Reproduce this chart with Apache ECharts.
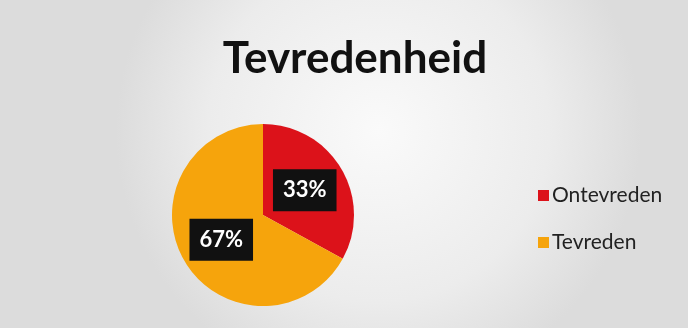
<!DOCTYPE html>
<html><head><meta charset="utf-8">
<script src="https://cdn.jsdelivr.net/npm/echarts@6/dist/echarts.min.js"></script>
<style>html,body{margin:0;padding:0;background:#fff}#c{width:688px;height:328px}</style>
</head><body><div id="c"></div>
<script>
const categories = ["Ontevreden", "Tevreden"];
const values = [33, 67];
const colors = ["#dc121a", "#f6a40c"];
const titleText = "Tevredenheid";

const chart = echarts.init(document.getElementById('c'));
chart.setOption({
  backgroundColor: {
    type: 'radial', x: 0.55, y: 0.4, r: 0.8,
    colorStops: [{offset: 0, color: '#fafafa'}, {offset: 0.65, color: '#ececec'}, {offset: 1, color: '#dcdcdc'}]
  },
  title: {
    text: titleText, left: 350, top: 32, textAlign: 'center',
    textStyle: {fontFamily: 'Lato', fontWeight: 'bold', fontSize: 44, color: '#111'}
  },
  legend: {
    orient: 'vertical', left: 533, top: 180, itemGap: 26,
    itemWidth: 11, itemHeight: 11, icon: 'rect',
    textStyle: {fontFamily: 'Lato', fontSize: 21, color: '#222', padding: [0,0,0,-2]},
    data: categories
  },
  series: [{
    type: 'pie', center: [263, 215], radius: 91, startAngle: 90, clockwise: true,
    animation: false,
    data: categories.map((n, i) => ({name: n, value: values[i], itemStyle: {color: colors[i]}})),
    label: {
      position: 'inside', formatter: '{d}%',
      fontFamily: 'Lato', fontWeight: 'bold', fontSize: 22, color: '#fff',
      backgroundColor: '#111', padding: [11, 10, 9, 10]
    },
    labelLine: {show: false},
    emphasis: {disabled: true}
  }]
});
</script></body></html>
